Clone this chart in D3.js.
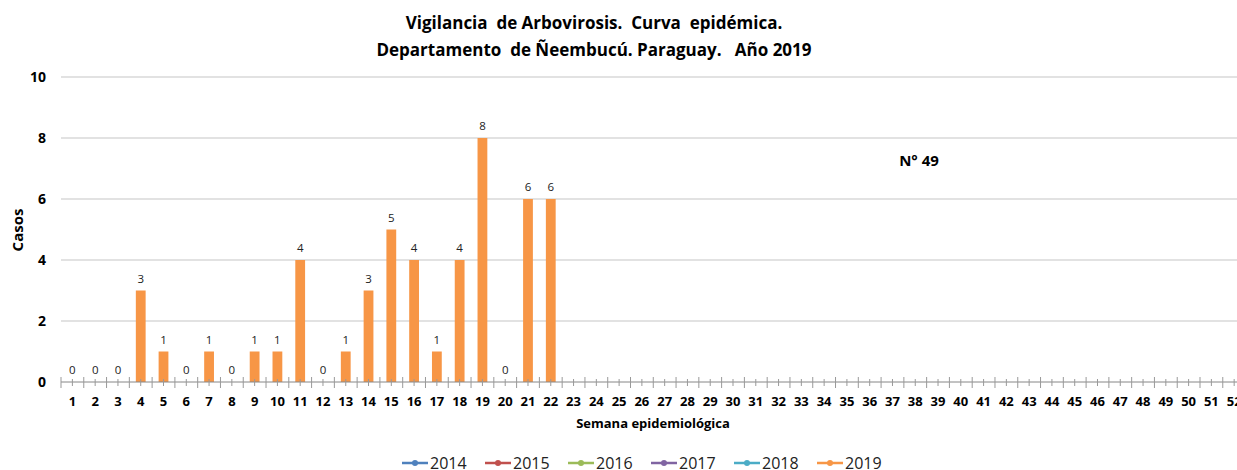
<!DOCTYPE html>
<html>
<head>
<meta charset="utf-8">
<script src="https://cdn.jsdelivr.net/npm/d3@7"></script>
<style>
  body { margin: 0; background: #fff; }
  svg { display: block; font-family: "Open Sans", "DejaVu Sans", sans-serif; }
</style>
</head>
<body>
<div id="chart"></div>
<script>
// weeks 1..52, only the first 22 have data this year
var weeks = d3.range(1, 53);
var casos2019 = [0, 0, 0, 3, 1, 0, 1, 0, 1, 1, 4, 0, 1, 3, 5, 4, 1, 4, 8, 0, 6, 6];
var yTicks = [0, 2, 4, 6, 8, 10];
var legendYears = ["2014", "2015", "2016", "2017", "2018", "2019"];
var legendColors = ["#4f81bd", "#c0504d", "#9bbb59", "#8064a2", "#4bacc6", "#f79646"];
var titleLines = ["Vigilancia  de Arbovirosis.  Curva  epidémica.", "Departamento  de Ñeembucú. Paraguay.   Año 2019"];

var width = 1237, height = 470;
var margin = {left: 61, top: 77, bottom: 382};
var step = 22.78;

var svg = d3.select("#chart").append("svg")
    .attr("width", width)
    .attr("height", height);

var x = d3.scaleBand()
    .domain(weeks)
    .range([margin.left, margin.left + step * weeks.length])
    .paddingInner(0.57)
    .paddingOuter(0.285);

// band positions for the tick marks (boundaries + centers)
var xb = d3.scaleBand().domain(weeks).range(x.range());

var y = d3.scaleLinear().domain([0, 10]).range([margin.bottom, margin.top]);

// gridlines
svg.append("g").selectAll("line")
    .data(yTicks.slice(1))
    .enter().append("line")
    .attr("x1", margin.left).attr("x2", width)
    .attr("y1", function(d){ return y(d); })
    .attr("y2", function(d){ return y(d); })
    .style("stroke", "#d9d9d9")
    .style("stroke-width", 1.3);

// y labels
svg.append("g").selectAll("text")
    .data(yTicks)
    .enter().append("text")
    .attr("x", 46)
    .attr("y", function(d){ return y(d) + 5; })
    .attr("text-anchor", "end")
    .style("font-size", "14px")
    .style("font-weight", "bold")
    .style("fill", "#000")
    .text(function(d){ return d; });

// bars
var data = casos2019.map(function(v, i){ return {week: weeks[i], value: v}; });

svg.append("g").selectAll("rect")
    .data(data)
    .enter().append("rect")
    .attr("x", function(d){ return x(d.week); })
    .attr("width", x.bandwidth())
    .attr("y", function(d){ return y(d.value); })
    .attr("height", function(d){ return y(0) - y(d.value); })
    .style("fill", "#f79646");

// value labels
svg.append("g").selectAll("text")
    .data(data)
    .enter().append("text")
    .attr("x", function(d){ return x(d.week) + x.bandwidth() / 2; })
    .attr("y", function(d){ return y(d.value) - 8; })
    .attr("text-anchor", "middle")
    .style("font-size", "11.5px")
    .style("fill", "#222")
    .text(function(d){ return d.value; });

// x axis line and ticks
var axisG = svg.append("g");
axisG.append("line")
    .attr("x1", margin.left).attr("x2", width)
    .attr("y1", y(0)).attr("y2", y(0))
    .style("stroke", "#868686");

axisG.selectAll("line.major")
    .data(weeks)
    .enter().append("line")
    .attr("class", "major")
    .attr("x1", function(d){ return xb(d); })
    .attr("x2", function(d){ return xb(d); })
    .attr("y1", y(0) - 5).attr("y2", y(0) + 6)
    .style("stroke", "#999");

axisG.selectAll("line.minor")
    .data(weeks)
    .enter().append("line")
    .attr("class", "minor")
    .attr("x1", function(d){ return xb(d) + xb.bandwidth() / 2; })
    .attr("x2", function(d){ return xb(d) + xb.bandwidth() / 2; })
    .attr("y1", y(0) - 3).attr("y2", y(0) + 4)
    .style("stroke", "#999");

axisG.selectAll("text")
    .data(weeks)
    .enter().append("text")
    .attr("x", function(d){ return xb(d) + xb.bandwidth() / 2; })
    .attr("y", 406)
    .attr("text-anchor", "middle")
    .style("font-size", "13px")
    .style("font-weight", "bold")
    .style("fill", "#000")
    .text(function(d){ return d; });

// axis titles
svg.append("text")
    .attr("x", 653).attr("y", 428)
    .attr("text-anchor", "middle")
    .style("font-size", "13px")
    .style("font-weight", "bold")
    .style("fill", "#000")
    .text("Semana epidemiológica");

svg.append("text")
    .attr("transform", "translate(23,230) rotate(-90)")
    .attr("text-anchor", "middle")
    .style("font-size", "15px")
    .style("font-weight", "bold")
    .style("fill", "#000")
    .text("Casos");

// title
svg.append("g").selectAll("text")
    .data(titleLines)
    .enter().append("text")
    .attr("x", 594)
    .attr("y", function(d, i){ return 29 + i * 27; })
    .attr("text-anchor", "middle")
    .style("font-size", "17px")
    .style("font-weight", "bold")
    .style("fill", "#000")
    .style("white-space", "pre")
    .text(function(d){ return d; });

svg.append("text")
    .attr("x", 919).attr("y", 166)
    .attr("text-anchor", "middle")
    .style("font-size", "15px")
    .style("font-weight", "bold")
    .style("fill", "#000")
    .text("N° 49");

// legend
var leg = svg.append("g").selectAll("g")
    .data(legendYears)
    .enter().append("g")
    .attr("transform", function(d, i){ return "translate(" + (402 + i * 83) + ",463)"; });

leg.append("line")
    .attr("x1", 0).attr("x2", 26)
    .style("stroke", function(d, i){ return legendColors[i]; })
    .style("stroke-width", 2.5);

leg.append("circle")
    .attr("cx", 13).attr("r", 3)
    .style("fill", function(d, i){ return legendColors[i]; });

leg.append("text")
    .attr("x", 28).attr("y", 6)
    .style("font-size", "16px")
    .style("fill", "#222")
    .text(function(d){ return d; });
</script>
</body>
</html>
